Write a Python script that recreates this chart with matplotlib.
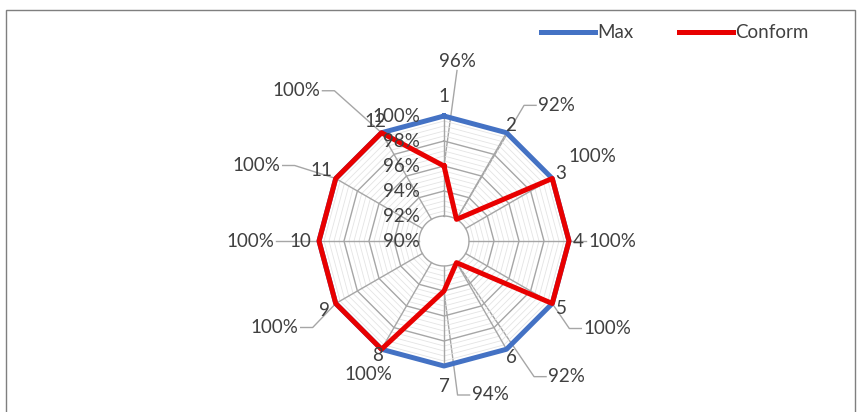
import numpy as np
import matplotlib
matplotlib.use("Agg")
import matplotlib.pyplot as plt
from matplotlib.lines import Line2D
from matplotlib.patches import Rectangle
from matplotlib.transforms import IdentityTransform

# ---------------- data ----------------
categories = ["1", "2", "3", "4", "5", "6", "7", "8", "9", "10", "11", "12"]
max_values = [100, 100, 100, 100, 100, 100, 100, 100, 100, 100, 100, 100]
conform_values = [96, 92, 100, 100, 100, 92, 94, 100, 100, 100, 100, 100]
r_ticks = [90, 92, 94, 96, 98, 100]
r_tick_labels = ["90%", "92%", "94%", "96%", "98%", "100%"]
series_names = ["Max", "Conform"]

# ---------------- layout ----------------
W, H = 862, 412
CX, CY, R = 444, 241, 125
FONT = ["Lato", "DejaVu Sans"]
FS = 13.5
TXT = "#404040"
GRID = "#A6A6A6"
BLUE = "#4472C4"
RED = "#E80000"

# data label offsets from their point (pixels, y down) and leader side
label_offsets = [(13, -105), (100, -114), (40, -22), (43, 0), (55, 25), (110, 114),
                 (46, 104), (-13, 25), (-61, 24), (-69, 0), (-79, -13), (-85, -42)]
leader_side = ["bottom", "left", None, "left", "left", "left",
               "left", None, "right", "right", "right", "right"]
# distance of category labels from the centre (pixels)
cat_dist = [145, 133, 135, 134, 135, 135, 145, 132, 138, 144, 142, 138]

plt.rcParams["font.family"] = FONT

fig = plt.figure(figsize=(W / 100, H / 100), dpi=100)
fig.patch.set_facecolor("white")
ax = fig.add_axes([(CX - R) / W, (H - CY - R) / H, 2 * R / W, 2 * R / H], projection="polar")
ax.set_theta_zero_location("N")
ax.set_theta_direction(-1)
ax.set_xlim(0, 2 * np.pi)
ax.set_ylim(r_ticks[0], r_ticks[-1])
ax.grid(False)
ax.set_xticks([])
ax.set_yticks([])
ax.spines["polar"].set_visible(False)
ax.patch.set_visible(False)

n = len(categories)
theta = np.deg2rad(np.arange(n) * 360.0 / n)
closed = np.append(theta, theta[0])
inner = r_ticks[1]

# minor gridlines (between the inner ring and the outer ring)
minor = np.arange(inner + 0.4, r_ticks[-1], 0.4)
for r in minor:
    if min(abs(r - t) for t in r_ticks) > 0.05:
        ax.plot(closed, [r] * (n + 1), color="#E4E4E4", lw=0.6, zorder=1)
# inner ring drawn as a circle
circ = np.linspace(0, 2 * np.pi, 181)
ax.plot(circ, [inner] * len(circ), color=GRID, lw=1.0, zorder=1.2)
# major gridlines
for r in r_ticks[2:]:
    ax.plot(closed, [r] * (n + 1), color=GRID, lw=1.0, zorder=1.2, clip_on=False)
# spokes
for t in theta:
    ax.plot([t, t], [inner, r_ticks[-1]], color=GRID, lw=1.0, zorder=1.2)

# series
l_max, = ax.plot(closed, max_values + max_values[:1], color=BLUE, lw=3.6,
                 solid_joinstyle="round", clip_on=False, zorder=3, label=series_names[0])
l_con, = ax.plot(closed, conform_values + conform_values[:1], color=RED, lw=3.6,
                 solid_joinstyle="round", clip_on=False, zorder=4, label=series_names[1])

# radial tick labels
for r, lab in zip(r_ticks, r_tick_labels):
    ax.annotate(lab, xy=(0, r), xytext=(-24, 0), textcoords="offset pixels",
                ha="right", va="center", fontsize=FS, color=TXT, zorder=5)

# category labels
for t, cat, d in zip(theta, categories, cat_dist):
    ax.annotate(cat, xy=(t, r_ticks[0]), xytext=(d * np.sin(t), d * np.cos(t)),
                textcoords="offset pixels", ha="center", va="center",
                fontsize=FS, color=TXT, zorder=5)

# data labels
texts = []
for t, v, (dx, dy) in zip(theta, conform_values, label_offsets):
    tx = ax.annotate(f"{v}%", xy=(t, v), xytext=(dx, -dy), textcoords="offset pixels",
                     ha="center", va="center", fontsize=FS, color=TXT, zorder=5)
    texts.append(tx)

# legend
fig.legend(handles=[l_max, l_con], labels=series_names, loc="center left",
           bbox_to_anchor=(541 / W, 1 - 33 / H), ncol=2, frameon=False,
           fontsize=FS, handlelength=2.9, handletextpad=0.1, columnspacing=2.4,
           borderpad=0, borderaxespad=0, labelcolor=TXT)

# leader lines (drawn in pixel space after layout is fixed)
fig.canvas.draw()
renderer = fig.canvas.get_renderer()
for t, v, tx, side in zip(theta, conform_values, texts, leader_side):
    if side is None:
        continue
    px, py = ax.transData.transform((t, v))
    bb = tx.get_window_extent(renderer)
    mx, my = (bb.x0 + bb.x1) / 2, (bb.y0 + bb.y1) / 2
    if side == "bottom":
        xs, ys = [mx, px], [bb.y0 - 1, py]
    else:
        sx = bb.x0 - 2 if side == "left" else bb.x1 + 2
        kx = sx - 12 if side == "left" else sx + 12
        if abs(py - my) < 3:
            xs, ys = [sx, px], [my, py]
        else:
            xs, ys = [sx, kx, px], [my, my, py]
    fig.add_artist(Line2D(xs, ys, transform=IdentityTransform(), color=GRID, lw=1.0, zorder=-1))

# chart frame
fig.add_artist(Rectangle((6 / W, -0.05), (855 - 6) / W, 1 - 9.5 / H + 0.05,
                         transform=fig.transFigure, fill=False, edgecolor="#7F7F7F",
                         lw=1.0, zorder=-2))

fig.savefig("out.png", dpi=100)
